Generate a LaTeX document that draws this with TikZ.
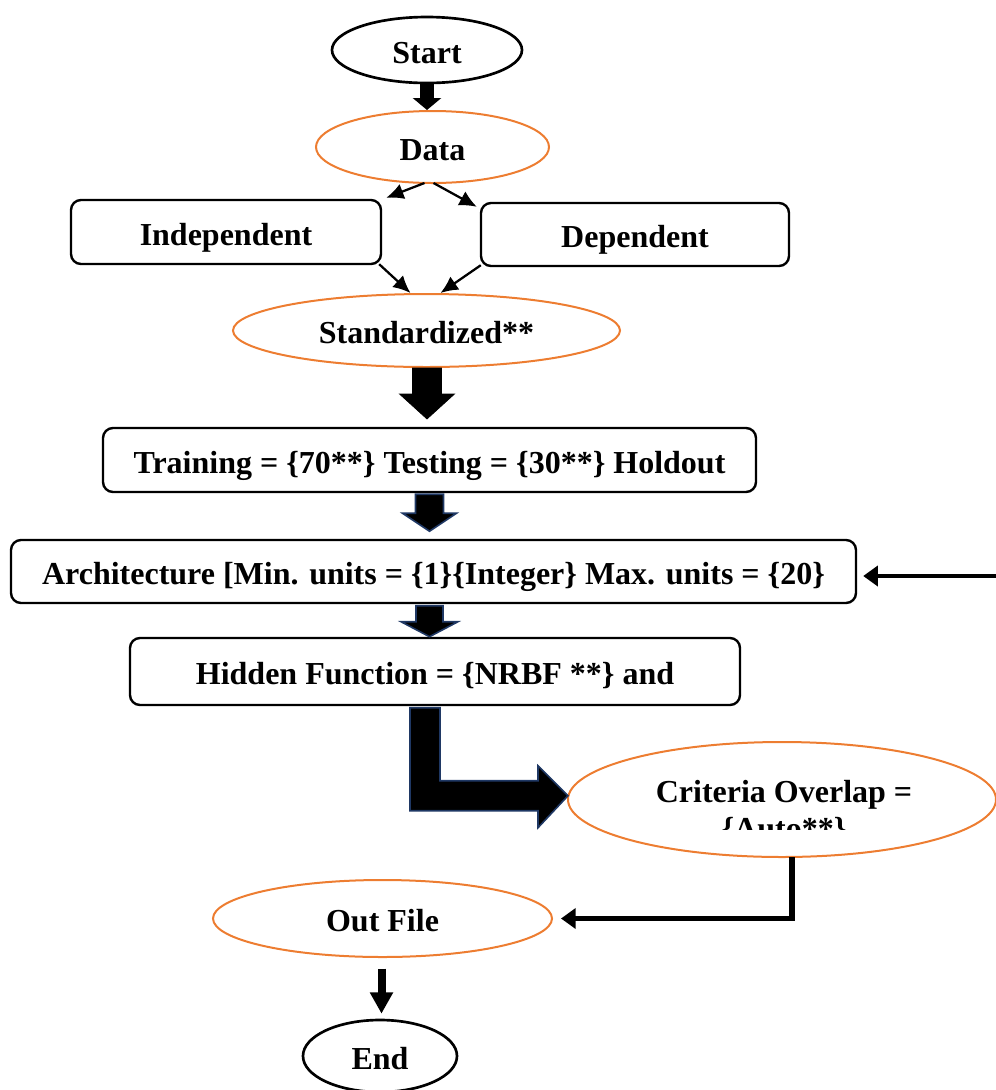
\documentclass[tikz,border=0pt]{standalone}
\usepackage{fontspec}
\setmainfont{Liberation Serif}
\usepackage{xcolor}
\definecolor{ovalOrange}{HTML}{ED7D31}
\definecolor{arrowNavy}{HTML}{1F3864}
\usetikzlibrary{shapes.geometric,arrows.meta,positioning,calc}
\tikzset{
  labelFont/.style={
    font=\bfseries\fontsize{24}{29}\selectfont
 },
  endOval/.style={
    ellipse,
    draw=black,
    line width=2pt,
    inner sep=0pt,
    text height=19.5pt,
    text depth=0pt,
    labelFont
 },
  dataOval/.style={
    ellipse,
    draw=ovalOrange,
    line width=1.5pt,
    inner sep=0pt,
    text height=19.5pt,
    text depth=0pt,
    labelFont
 },
  stepBox/.style={
    rectangle,
    rounded corners=7.5pt,
    draw=black,
    line width=1.8pt,
    inner sep=0pt,
    text height=19.5pt,
    text depth=0pt,
    labelFont
 },
  thinArrow/.style={
    -{Latex[length=13pt,width=12pt]},
    line width=1.7pt
 },
  fatArrow/.style={
    -{Triangle[length=9pt,width=21pt]},
    line width=10.5pt
 },
  slimArrow/.style={
    -{Triangle[length=16pt,width=16.5pt]},
    line width=6pt
 },
  elbowArrow/.style={
    -{Triangle[length=11pt,width=15pt]},
    line width=3.8pt
 },
  blockBlack/.style={
    fill=black,
    draw=black,
    line width=0.5pt
 },
  blockNavy/.style={
    fill=black,
    draw=arrowNavy,
    line width=1.2pt
 }
}

\begin{document}
\begin{tikzpicture}[x=0.75pt, y=-0.75pt]
  \useasboundingbox (0,0) rectangle (996,1090);

  \node[endOval, minimum width=142.5pt, minimum height=49.5pt] (start) at (427,50) {Start};
  \node[dataOval, minimum width=174.75pt, minimum height=54pt] (data) at (432.5,147) {Data};
  \draw[fatArrow] (start.south) -- (start.south |- data.north);

  \node[stepBox, minimum width=232.5pt, minimum height=48pt] (indep) at (226,232) {Independent};
  \node[stepBox, minimum width=231pt, minimum height=47.25pt] (dep) at (635,234.5) {Dependent};
  \draw[thinArrow] ($(data.south)+(-8,-1)$) -- ($(indep.north east)+(4,-1)$);
  \draw[thinArrow] ($(data.south)+(1,-1)$) -- ($(dep.north west)+(-3,5)$);

  \node[dataOval, minimum width=290.25pt, minimum height=54.75pt] (std) at (426.5,330.5) {Standardized**};
  \draw[thinArrow] ($(indep.south east)+(-3,-1)$) -- ($(std.north)+(-16,0)$);
  \draw[thinArrow] ($(dep.south west)+(1,-2)$) -- ($(std.north)+(14,0)$);

  \node[stepBox, minimum width=489.75pt, minimum height=48pt] (train) at (429.5,460) {Training = \{70**\} Testing = \{30**\} Holdout};
  \draw[blockBlack] ($(std.south)+(-14,0)$) -- ++(0,26) -- ++(-13,0) -- ++(27.5,25) -- ++(27.5,-25) -- ++(-13,0) -- ++(0,-26) -- cycle;

  \node[stepBox, minimum width=633.75pt, minimum height=47.25pt] (arch) at (433.5,571.5) {Architecture [Min. units = \{1\}\{Integer\} Max. units = \{20\}};
  \draw[blockNavy] ($(train.south)+(-14,1)$) -- ++(0,19) -- ++(-13,0) -- ++(27,18) -- ++(27,-18) -- ++(-13,0) -- ++(0,-19) -- cycle;

  % feedback from the right edge
  \coordinate (feedIn) at (996,576);
  \draw[elbowArrow, line width=3pt, shorten >=4.5pt] (feedIn) -- (feedIn -| arch.east);

  \node[stepBox, minimum width=457.5pt, minimum height=50.25pt] (hidden) at (435,671.5) {Hidden Function = \{NRBF **\} and};
  \draw[blockNavy] ($(arch.south)+(-17.5,1.5)$) -- ++(0,16) -- ++(-15,0) -- ++(28.5,15) -- ++(28.5,-15) -- ++(-15,0) -- ++(0,-16) -- cycle;

  \node[dataOval, minimum width=321pt, minimum height=86.25pt] (crit) at (782,799.5) {};
  \begin{scope}
    \clip (570,740) rectangle (990,829);
    \node[labelFont, align=center] (critText) at (784,812) {Criteria Overlap =\\[-1pt]\{Auto**\}};
  \end{scope}
  \draw[blockNavy] ($(hidden.south)+(-25,1.5)$) -- ++(30,0) -- ++(0,73) -- ++(98,0) -- ++(0,-15) -- ++(30,30) -- ++(-30,32) -- ++(0,-17) -- ++(-128,0) -- cycle;

  \node[dataOval, minimum width=254.25pt, minimum height=57.75pt] (outfile) at (382.5,918.5) {Out File};
  \draw[elbowArrow, shorten >=6pt] ($(crit.south)+(10,-1)$) |- (outfile.east);

  \node[endOval, minimum width=115.5pt, minimum height=54pt] (end) at (380,1056) {End};
  \draw[slimArrow, shorten <=8pt, shorten >=3.75pt] ($(outfile.south)+(-1,0)$) -- ($(outfile.south |- end.north)+(-1,0)$);
\end{tikzpicture}
\end{document}
